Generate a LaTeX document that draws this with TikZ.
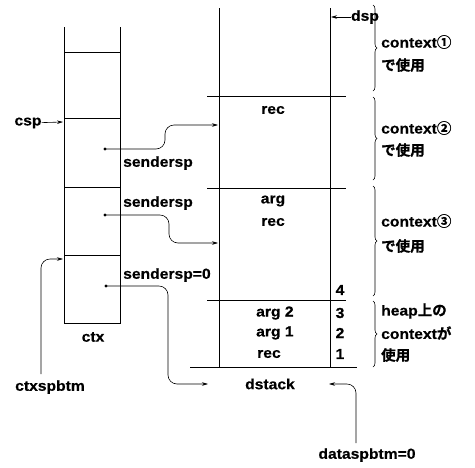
\documentclass[tikz,border=0pt]{standalone}
\usepackage{fontspec}
\setmainfont{Liberation Sans}[FakeStretch=1.08, BoldFeatures={FakeBold=0.5}]
\newfontfamily\jfont{Noto Sans CJK JP}[UprightFont={* Bold}, BoldFont={* Bold}, FakeBold=1]
\usetikzlibrary{arrows.meta,decorations.pathreplacing}

\begin{document}
\begin{tikzpicture}[x=1pt, y=-1pt,
    lbl/.style={font=\fontsize{14.5}{16}\selectfont\bfseries, inner sep=0pt},
    side/.style={lbl, anchor=west},
    wall/.style={line width=1pt},
    sep/.style={line width=0.6pt},
    ptr/.style={-{Stealth[length=6pt,width=3.5pt]}, line width=0.6pt, rounded corners=9pt},
    dot/.style={circle, fill, inner sep=0pt, minimum size=3.2pt},
    brc/.style={decorate, decoration={brace, amplitude=4pt}, line width=0.6pt}]

    \useasboundingbox (0,0) rectangle (475,467);

    % ctx stack
    \draw[wall] (64,27) -- (64,323) -- (120,323) -- (120,27);
    \foreach \y in {52,118,187,255}
        \draw[sep] (64,\y) -- (120,\y);
    \node[lbl] (ctx) at (93,337) {ctx};

    % dstack
    \draw[wall] (219,8) -- (219,367);
    \draw[wall] (330,8) -- (330,367);
    \foreach \y in {96,188,300}
        \draw[sep] (207,\y) -- (346,\y);
    \draw[wall] (190,367) -- (357,367);
    \node[lbl] (dstack) at (270,384) {dstack};

    \node[lbl] (rec3) at (273,110) {rec};
    \node[lbl] (arg2) at (273,201) {arg};
    \node[lbl] (rec2) at (273,222) {rec};
    \node[lbl, anchor=west] (argb) at (256,313) {arg 2};
    \node[lbl, anchor=west] (arga) at (256,333) {arg 1};
    \node[lbl, anchor=west] (rec1) at (257,354) {rec};
    \node[lbl] (n4) at (340,290) {4};
    \node[lbl] (n3) at (340,313) {3};
    \node[lbl] (n2) at (340,333) {2};
    \node[lbl] (n1) at (340,354) {1};

    % pointers
    \node[lbl] (csp) at (28,123) {csp};
    \coordinate (cspend) at (63,122);
    \draw[ptr] (csp) -- (cspend);

    \node[lbl] (dsp) at (365,17) {dsp};
    \coordinate (dspend) at (331,17);
    \draw[ptr] (dsp) -- (dspend);

    \node[lbl] (ctxspbtm) at (50,387) {ctxspbtm};
    \coordinate (cbtail) at (41,374);
    \coordinate (cbhead) at (63,259);
    \draw[ptr] (cbtail) |- (cbhead);

    \node[lbl] (dataspbtm) at (367,455) {dataspbtm=0};
    \coordinate (dbtail) at (356,443);
    \coordinate (dbhead) at (329,384);
    \draw[ptr] (dbtail) |- (dbhead);

    % sendersp links
    \node[dot] (s1) at (105,149) {};
    \node[dot] (s2) at (105,215) {};
    \node[dot] (s3) at (106,286) {};
    \node[lbl, anchor=west] (snd1) at (123,163) {sendersp};
    \node[lbl, anchor=west] (snd2) at (123,203) {sendersp};
    \node[lbl, anchor=west] (snd3) at (123,275) {sendersp=0};
    \coordinate (r1) at (218,125);
    \coordinate (r2) at (218,243);
    \coordinate (r3) at (208,384);
    \draw[ptr] (s1.center) -- ++(60,0) |- (r1);
    \draw[ptr] (s2.center) -- ++(64,0) |- (r2);
    \draw[ptr] (s3.center) -- ++(62,0) |- (r3);

    % usage braces
    \draw[brc] (373,5) -- (373,91);
    \draw[brc] (373,97) -- (373,180);
    \draw[brc] (373,186) -- (373,296);
    \draw[brc] (373,301) -- (373,367);

    \node[side] (u1a) at (381,42) {context{\jfont ①}};
    \node[side] (u1b) at (381,65) {\jfont で使用};
    \node[side] (u2a) at (381,128) {context{\jfont ②}};
    \node[side] (u2b) at (381,150) {\jfont で使用};
    \node[side] (u3a) at (381,221) {context{\jfont ③}};
    \node[side] (u3b) at (381,246) {\jfont で使用};
    \node[side] (u4a) at (381,311) {heap{\jfont 上の}};
    \node[side] (u4b) at (381,333) {context{\jfont が}};
    \node[side] (u4c) at (381,355) {\jfont 使用};
\end{tikzpicture}
\end{document}
